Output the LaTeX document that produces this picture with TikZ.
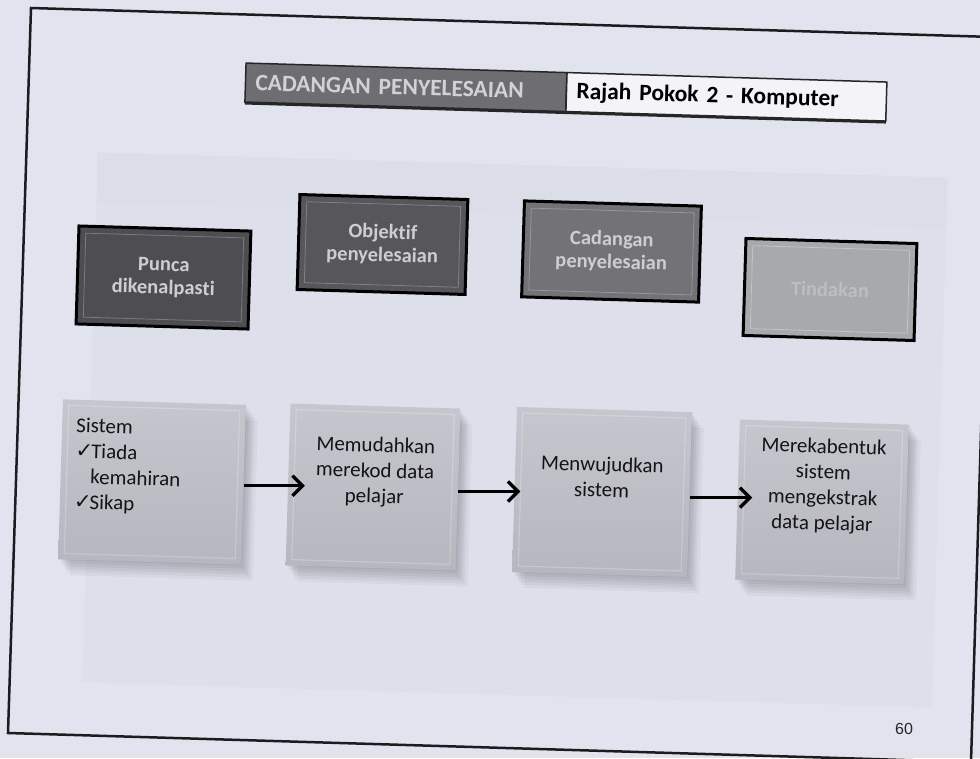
\documentclass[tikz,border=0pt]{standalone}
\usepackage{fontspec}
\setmainfont{Carlito}[Ligatures=NoCommon]
\newfontfamily\symf{DejaVu Sans}
\newfontfamily\pgnfont{Liberation Sans}
\usetikzlibrary{arrows.meta}
\definecolor{paper}{HTML}{E1E3EF}
\definecolor{panelc}{HTML}{CFD1DD}
\definecolor{bandc}{HTML}{C3C5D1}
\definecolor{frameline}{HTML}{1C1C1E}
\definecolor{toptext}{HTML}{CDCDD2}
\definecolor{fillA}{HTML}{4E4E52}
\definecolor{fillB}{HTML}{57575B}
\definecolor{fillC}{HTML}{737377}
\definecolor{fillD}{HTML}{A8A9AD}
\definecolor{textD}{HTML}{BDBEC2}
\definecolor{botA}{HTML}{C6C7CE}
\definecolor{botB}{HTML}{B6B7BE}
\definecolor{hdark}{HTML}{6E6E72}
\definecolor{hdtext}{HTML}{D2D2D6}
\definecolor{hwhite}{HTML}{F4F4F8}
\tikzset{
  rot/.style={rotate=-1.7},
  topbx/.style={rot, draw=black, line width=3pt, inner sep=0pt, align=center,
    text=toptext, font=\bfseries\fontsize{20.5}{23}\selectfont},
  topinner/.style={rot, draw=#1, line width=0.8pt, inner sep=0pt},
  softshadow/.style={
    preaction={fill=black, opacity=0.045, transform canvas={xshift=1pt,yshift=-1pt}},
    preaction={fill=black, opacity=0.045, transform canvas={xshift=3pt,yshift=-4pt}},
    preaction={fill=black, opacity=0.045, transform canvas={xshift=5pt,yshift=-7pt}},
    preaction={fill=black, opacity=0.045, transform canvas={xshift=7pt,yshift=-10pt}},
    preaction={fill=black, opacity=0.04, transform canvas={xshift=9pt,yshift=-13pt}},
    preaction={fill=black, opacity=0.035, transform canvas={xshift=12pt,yshift=-16pt}}},
  botbx/.style={rot, inner sep=0pt, top color=botA, bottom color=botB, softshadow},
  botinner/.style={rot, draw=white, draw opacity=0.22, line width=1.2pt, inner sep=0pt},
  bottxt/.style={rot, inner sep=0pt, text=black!92, font=\fontsize{21}{25.5}\selectfont},
  hdbox/.style={rot, draw=black!85, line width=1.5pt, inner xsep=10pt, inner ysep=0pt,
    minimum height=39pt, align=left, font=\bfseries\fontsize{23.5}{26}\selectfont,
    preaction={fill=black!85, transform canvas={yshift=-2.5pt}}},
  arr/.style={line width=3.4pt, -{Straight Barb[length=10pt,width=20pt,line width=3.4pt]}},
}
\newcommand\chk{{\symf ✓}\hspace{-2pt}}
\begin{document}
\begin{tikzpicture}[x=1pt,y=-1pt]
\useasboundingbox (0,0) rectangle (980,758);
\clip (0,0) rectangle (980,758);
\fill[paper] (0,0) rectangle (980,758);

% faint background panel
\node[rot, fill=panelc, fill opacity=0.18, minimum width=850pt, minimum height=530pt, inner sep=0pt] (panel) at (515,430) {};
\node[rot, fill=bandc, fill opacity=0.06, minimum width=850pt, minimum height=50pt, inner sep=0pt] (band) at (522,190) {};

% slide frame
\draw[frameline, line width=2.5pt, line join=miter] (31,8) -- (993,37) -- (971,762) -- (8,733) -- cycle;

% header
\node[hdbox, fill=hdark, text=hdtext, text width=301pt] (hdA) at (405.9,87.3) {CADANGAN PENYELESAIAN};
\node[hdbox, fill=hwhite, text=black, text width=300pt] (hdB) at (726.4,96.8) {Rajah Pokok 2 - Komputer};

% top boxes
\node[topbx, fill=fillA, minimum width=172pt, minimum height=98pt] (tb1) at (163.5,277.5) {Punca\\dikenalpasti};
\node[topinner=fillA!75!white, minimum width=158pt, minimum height=84pt] (tb1i) at (163.5,277.5) {};
\node[topbx, fill=fillB, minimum width=168pt, minimum height=95pt] (tb2) at (382.5,244.5) {Objektif\\penyelesaian};
\node[topinner=fillB!75!white, minimum width=154pt, minimum height=81pt] (tb2i) at (382.5,244.5) {};
\node[topbx, fill=fillC, minimum width=177pt, minimum height=96pt] (tb3) at (611.5,251.5) {Cadangan\\penyelesaian};
\node[topinner=fillC!75!white, minimum width=163pt, minimum height=82pt] (tb3i) at (611.5,251.5) {};
\node[topbx, fill=fillD, text=textD, minimum width=171pt, minimum height=97pt] (tb4) at (830,289.5) {Tindakan};
\node[topinner=fillD!70!white, minimum width=157pt, minimum height=83pt] (tb4i) at (830,289.5) {};

% bottom boxes
\node[botbx, minimum width=183pt, minimum height=160pt] (bb1) at (152,482) {};
\node[botinner, minimum width=171pt, minimum height=148pt] (bb1i) at (152,482) {};
\node[botbx, minimum width=170pt, minimum height=162pt] (bb2) at (373,487) {};
\node[botinner, minimum width=158pt, minimum height=150pt] (bb2i) at (373,487) {};
\node[botbx, minimum width=175pt, minimum height=165pt] (bb3) at (602,492) {};
\node[botinner, minimum width=163pt, minimum height=153pt] (bb3i) at (602,492) {};
\node[botbx, minimum width=169pt, minimum height=160pt] (bb4) at (822,502) {};
\node[botinner, minimum width=157pt, minimum height=148pt] (bb4i) at (822,502) {};

% bottom texts
\node[bottxt, anchor=west, align=left] (bt1) at (75,465)
  {Sistem\\\chk Tiada\\\phantom{\chk}kemahiran\\\chk Sikap};
\node[bottxt, align=center] (bt2) at (375,472) {Memudahkan\\merekod data\\pelajar};
\node[bottxt, align=center] (bt3) at (602,477) {Menwujudkan\\sistem};
\node[bottxt, align=center] (bt4) at (823,486) {Merekabentuk\\sistem\\mengekstrak\\data pelajar};

% arrows
\draw[arr] ([yshift=-1pt]bb1.east) -- ([xshift=17pt,yshift=-1pt]bb1.east -| bb2.west);
\draw[arr] ([yshift=-2pt]bb2.east) -- ([xshift=6pt,yshift=-2pt]bb2.east -| bb3.west);
\draw[arr] ([yshift=-3pt]bb3.east) -- ([xshift=15pt,yshift=-3pt]bb3.east -| bb4.west);

% page number
\node[font=\pgnfont\fontsize{16}{18}\selectfont, text=black!85, inner sep=0pt] (pg) at (904,729) {60};
\end{tikzpicture}
\end{document}
